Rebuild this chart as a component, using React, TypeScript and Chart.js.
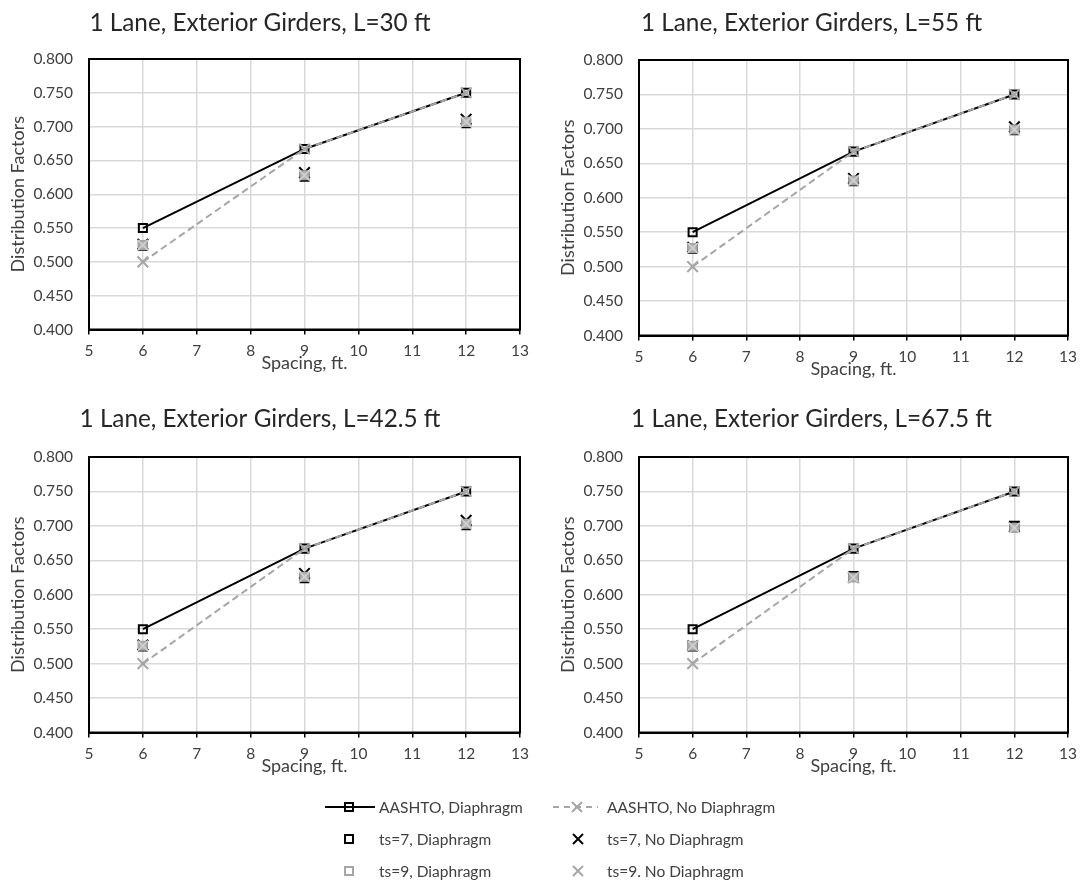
import React, { useEffect, useRef } from "react";
import { Chart, registerables } from "chart.js";

Chart.register(...registerables);

// ---------------- DATA ----------------
const spacingFt = [6, 9, 12];
const xTickMin = 5;
const xTickMax = 13;
const yTickMin = 0.4;
const yTickMax = 0.8;

const chartTitles = [
  "1 Lane, Exterior Girders, L=30 ft",
  "1 Lane, Exterior Girders, L=55 ft",
  "1 Lane, Exterior Girders, L=42.5 ft",
  "1 Lane, Exterior Girders, L=67.5 ft",
];

const seriesNames = [
  "AASHTO, Diaphragm",
  "AASHTO, No Diaphragm",
  "ts=7, Diaphragm",
  "ts=7, No Diaphragm",
  "ts=9, Diaphragm",
  "ts=9. No Diaphragm",
];

const aashtoDiaphragm = [0.55, 0.667, 0.75];
const aashtoNoDiaphragm = [0.5, 0.667, 0.75];

// L = 30 ft
const l30Ts7Diaphragm = [0.524, 0.626, 0.705];
const l30Ts7NoDiaphragm = [0.526, 0.632, 0.711];
const l30Ts9Diaphragm = [0.525, 0.628, 0.707];
const l30Ts9NoDiaphragm = [0.525, 0.628, 0.707];

// L = 55 ft
const l55Ts7Diaphragm = [0.526, 0.624, 0.698];
const l55Ts7NoDiaphragm = [0.528, 0.628, 0.703];
const l55Ts9Diaphragm = [0.527, 0.625, 0.699];
const l55Ts9NoDiaphragm = [0.527, 0.625, 0.699];

// L = 42.5 ft
const l425Ts7Diaphragm = [0.525, 0.624, 0.701];
const l425Ts7NoDiaphragm = [0.527, 0.631, 0.708];
const l425Ts9Diaphragm = [0.526, 0.626, 0.703];
const l425Ts9NoDiaphragm = [0.526, 0.626, 0.703];

// L = 67.5 ft
const l675Ts7Diaphragm = [0.525, 0.627, 0.7];
const l675Ts7NoDiaphragm = [0.526, 0.625, 0.699];
const l675Ts9Diaphragm = [0.526, 0.625, 0.697];
const l675Ts9NoDiaphragm = [0.526, 0.625, 0.697];

const panelSeries = [
  [l30Ts7Diaphragm, l30Ts7NoDiaphragm, l30Ts9Diaphragm, l30Ts9NoDiaphragm],
  [l55Ts7Diaphragm, l55Ts7NoDiaphragm, l55Ts9Diaphragm, l55Ts9NoDiaphragm],
  [l425Ts7Diaphragm, l425Ts7NoDiaphragm, l425Ts9Diaphragm, l425Ts9NoDiaphragm],
  [l675Ts7Diaphragm, l675Ts7NoDiaphragm, l675Ts9Diaphragm, l675Ts9NoDiaphragm],
];

// ---------------- STYLE / LAYOUT ----------------
const FONT = "Lato, 'Open Sans', sans-serif";
const TEXT = "#404040";
const TITLE_TEXT = "#262626";
const GRAY = "#a6a6a6";
const GRID = "#d9d9d9";
const TITLE_SIZE = 24.3;
const AXIS_TITLE_SIZE = 18;
const TICK_SIZE = 15.5;

// canvas-relative layout of each panel (canvas placed at left/top on page)
const layouts = [
  { left: 0, top: 0, width: 540, plotLeft: 89, plotRight: 520, plotTop: 59, plotBottom: 329, yTitleX: 18, titleY: 23 },
  { left: 552, top: 0, width: 532, plotLeft: 87, plotRight: 519, plotTop: 60, plotBottom: 335, yTitleX: 16, titleY: 23 },
  { left: 0, top: 395, width: 540, plotLeft: 89, plotRight: 520, plotTop: 62, plotBottom: 337, yTitleX: 18, titleY: 24 },
  { left: 552, top: 395, width: 532, plotLeft: 87, plotRight: 519, plotTop: 62, plotBottom: 337, yTitleX: 16, titleY: 24 },
];

const pts = (ys: number[]) => spacingFt.map((x, i) => ({ x, y: ys[i] }));

const framePlugin = {
  id: "frame",
  beforeDatasetsDraw(chart: any) {
    const { ctx, chartArea } = chart;
    ctx.save();
    ctx.strokeStyle = "#000";
    ctx.lineWidth = 2;
    ctx.strokeRect(chartArea.left, chartArea.top, chartArea.right - chartArea.left, chartArea.bottom - chartArea.top);
    ctx.restore();
  },
};

function Panel({ index }: { index: number }) {
  const ref = useRef<HTMLCanvasElement | null>(null);
  const lay = layouts[index];
  const xAxisHeight = 44.5;
  const height = Math.round(lay.plotBottom + xAxisHeight);

  useEffect(() => {
    if (!ref.current) return;
    const [ts7D, ts7ND, ts9D, ts9ND] = panelSeries[index];
    const titleLH = TITLE_SIZE * 1.2;
    const tPadTop = lay.titleY - titleLH / 2;
    const tPadBottom = lay.plotTop - tPadTop - titleLH;
    const tickFont = { family: FONT, size: TICK_SIZE };
    const axisTitleFont = { family: FONT, size: AXIS_TITLE_SIZE };
    const yTitlePad = lay.yTitleX - (AXIS_TITLE_SIZE * 1.2) / 2;

    const chart = new Chart(ref.current, {
      type: "scatter",
      data: {
        datasets: [
          {
            label: seriesNames[0],
            data: pts(aashtoDiaphragm),
            showLine: true,
            borderColor: "#000",
            borderWidth: 2,
            pointStyle: "rect",
            pointRadius: 5.7,
            pointBorderWidth: 2,
            pointBorderColor: "#000",
            pointBackgroundColor: "rgba(0,0,0,0)",
            order: 6,
          },
          {
            label: seriesNames[1],
            data: pts(aashtoNoDiaphragm),
            showLine: true,
            borderColor: GRAY,
            borderWidth: 2,
            borderDash: [7, 4],
            pointStyle: "crossRot",
            pointRadius: 7.5,
            pointBorderWidth: 2,
            pointBorderColor: GRAY,
            order: 5,
          },
          {
            label: seriesNames[2],
            data: pts(ts7D),
            showLine: false,
            pointStyle: "rect",
            pointRadius: 5.7,
            pointBorderWidth: 2,
            pointBorderColor: "#000",
            pointBackgroundColor: "#ffffff",
            order: 4,
          },
          {
            label: seriesNames[3],
            data: pts(ts7ND),
            showLine: false,
            pointStyle: "crossRot",
            pointRadius: 7.5,
            pointBorderWidth: 2,
            pointBorderColor: "#000",
            order: 3,
          },
          {
            label: seriesNames[4],
            data: pts(ts9D),
            showLine: false,
            pointStyle: "rect",
            pointRadius: 5.7,
            pointBorderWidth: 2,
            pointBorderColor: GRAY,
            pointBackgroundColor: "#b8b8b8",
            order: 2,
          },
          {
            label: seriesNames[5],
            data: pts(ts9ND),
            showLine: false,
            pointStyle: "crossRot",
            pointRadius: 7.5,
            pointBorderWidth: 1.5,
            pointBorderColor: "#d0d0d0",
            order: 1,
          },
        ],
      },
      options: {
        responsive: false,
        animation: false,
        events: [],
        layout: { padding: { left: 0, right: lay.width - lay.plotRight, top: 0, bottom: 0 } },
        plugins: {
          legend: { display: false },
          tooltip: { enabled: false },
          title: {
            display: true,
            text: chartTitles[index],
            color: TITLE_TEXT,
            font: { family: FONT, size: TITLE_SIZE, weight: "normal" },
            padding: { top: tPadTop, bottom: tPadBottom },
          },
        },
        scales: {
          x: {
            type: "linear",
            min: xTickMin,
            max: xTickMax,
            ticks: { stepSize: 1, color: TEXT, font: tickFont, padding: 7 },
            grid: { color: GRID, lineWidth: 1.5, tickColor: "#000", tickLength: 5, tickWidth: 1.5 },
            border: { color: "#000", width: 2 },
            title: { display: true, text: "Spacing, ft.", color: TEXT, font: axisTitleFont, padding: 0 },
            afterFit: (s: any) => {
              s.height = xAxisHeight;
            },
          },
          y: {
            type: "linear",
            min: yTickMin,
            max: yTickMax,
            ticks: {
              stepSize: 0.05,
              color: TEXT,
              font: tickFont,
              padding: 16,
              callback: (v: any) => Number(v).toFixed(3),
            },
            grid: { color: GRID, lineWidth: 1.5, drawTicks: false },
            border: { color: "#000", width: 2 },
            title: {
              display: true,
              text: "Distribution Factors",
              color: TEXT,
              font: axisTitleFont,
              padding: { top: yTitlePad, bottom: 0 },
            },
            afterFit: (s: any) => {
              s.width = lay.plotLeft;
            },
          },
        },
      },
      plugins: [framePlugin],
    } as any);
    return () => chart.destroy();
  }, [index]);

  return (
    <canvas
      ref={ref}
      width={lay.width}
      height={height}
      style={{ position: "absolute", left: lay.left, top: lay.top, width: lay.width, height }}
    />
  );
}

function SquareIcon({ cx, cy, color }: { cx: number; cy: number; color: string }) {
  return <rect x={cx - 4} y={cy - 4} width={8} height={8} fill="none" stroke={color} strokeWidth={2} />;
}

function CrossIcon({ cx, cy, color }: { cx: number; cy: number; color: string }) {
  return (
    <g stroke={color} strokeWidth={2}>
      <line x1={cx - 5} y1={cy - 5} x2={cx + 5} y2={cy + 5} />
      <line x1={cx - 5} y1={cy + 5} x2={cx + 5} y2={cy - 5} />
    </g>
  );
}

function Legend() {
  const rows = [807, 839, 871];
  const col1Text = 379;
  const col2Text = 607;
  const labelStyle = (x: number, y: number): React.CSSProperties => ({
    position: "absolute",
    left: x,
    top: y - 10,
    height: 20,
    lineHeight: "20px",
    fontFamily: FONT,
    fontSize: 15.5,
    color: TEXT,
    whiteSpace: "nowrap",
  });
  return (
    <>
      <svg width={1084} height={880} style={{ position: "absolute", left: 0, top: 0, pointerEvents: "none" }}>
        <line x1={325} y1={rows[0]} x2={375} y2={rows[0]} stroke="#000" strokeWidth={2} />
        <SquareIcon cx={349} cy={rows[0]} color="#000" />
        <line x1={553} y1={rows[0]} x2={598} y2={rows[0]} stroke={GRAY} strokeWidth={2} strokeDasharray="6 5" />
        <CrossIcon cx={577} cy={rows[0]} color={GRAY} />
        <SquareIcon cx={349} cy={rows[1]} color="#000" />
        <CrossIcon cx={578} cy={rows[1]} color="#000" />
        <SquareIcon cx={349} cy={rows[2]} color={GRAY} />
        <CrossIcon cx={578} cy={rows[2]} color={GRAY} />
      </svg>
      <div style={labelStyle(col1Text, rows[0])}>{seriesNames[0]}</div>
      <div style={labelStyle(col2Text, rows[0])}>{seriesNames[1]}</div>
      <div style={labelStyle(col1Text, rows[1])}>{seriesNames[2]}</div>
      <div style={labelStyle(col2Text, rows[1])}>{seriesNames[3]}</div>
      <div style={labelStyle(col1Text, rows[2])}>{seriesNames[4]}</div>
      <div style={labelStyle(col2Text, rows[2])}>{seriesNames[5]}</div>
    </>
  );
}

export default function App() {
  return (
    <div
      style={{
        position: "absolute",
        left: 0,
        top: 0,
        width: 1084,
        height: 880,
        overflow: "hidden",
        background: "#ffffff",
      }}
    >
      {[0, 1, 2, 3].map((i) => (
        <Panel key={i} index={i} />
      ))}
      <Legend />
    </div>
  );
}
